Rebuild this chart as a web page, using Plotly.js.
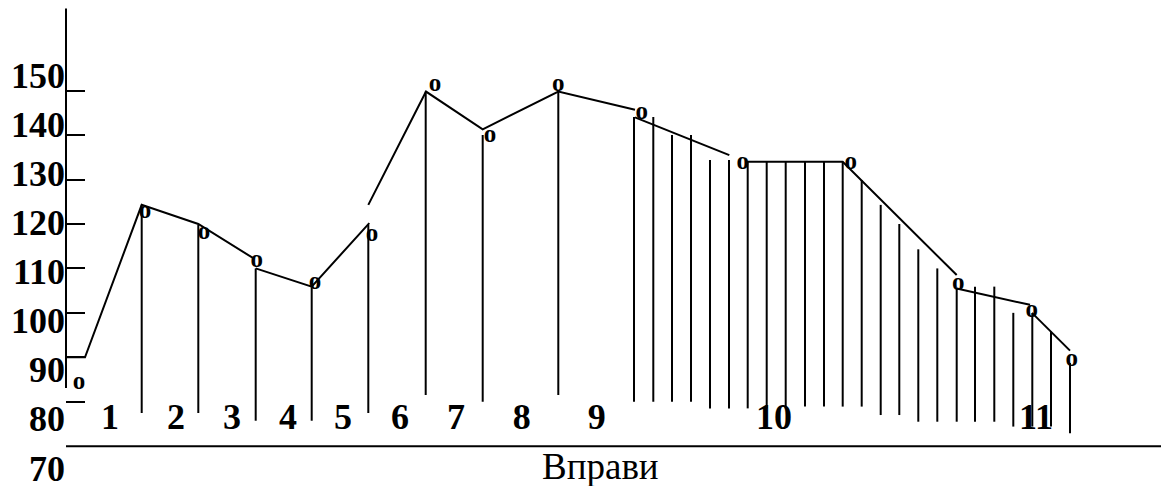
<!DOCTYPE html>
<html>
<head>
<meta charset="utf-8">
<script src="https://cdn.plot.ly/plotly-3.0.1.min.js"></script>
<style>
  html, body { margin: 0; padding: 0; background: #fff; }
  #chart { width: 1161px; height: 486px; }
</style>
</head>
<body>
<div id="chart"></div>
<script>
// ---- data ----
// y-axis tick values and label column
const yTickVals = [80, 90, 100, 110, 120, 130, 140, 150];
const yLabelVals = [70, 80, 90, 100, 110, 120, 130, 140, 150];
const yLabelText = ['70', '80', '90', '100', '110', '120', '130', '140', '150'];

// exercise numbers along the bottom (time position of each label)
const exerciseLabels = ['1', '2', '3', '4', '5', '6', '7', '8', '9', '10', '11'];
const exerciseT = [4.4, 11.0, 16.6, 22.2, 27.7, 33.4, 39.0, 45.57, 53.07, 70.8, 97.0];

// broken polyline of the curve (null = break in the drawn line)
const curveT = [0, 1.9, 7.57, 13.23, 18.73, null,
                18.97, 24.57, 30.33, null,
                30.23, 36.0, 41.67, 49.23, 56.9, null,
                56.9, 66.33, null,
                68.07, 77.67, 89.07, null,
                89.07, 96.4, null,
                96.6, 100.4];
const curveV = [90.0, 90.0, 124.3, 120.0, 112.3, null,
                110.0, 105.9, 120.2, null,
                124.3, 149.8, 141.3, 149.8, 145.7, null,
                144.0, 135.5, null,
                134.0, 134.0, 108.5, null,
                105.5, 101.8, null,
                100.0, 91.5];

// vertical hatch lines: time, top value, bottom value
const hatchT = [7.57, 13.23, 18.97, 24.57, 30.23, 35.97, 41.67, 49.23,
                56.8, 58.73, 60.6, 62.5, 64.4, 66.3, 68.17, 70.07, 71.97,
                73.9, 75.8, 77.67, 79.57, 81.47, 83.33, 85.23, 87.13, 89.07,
                90.9, 92.83, 94.73, 96.63, 98.5, 100.4];
const hatchTop = [124.3, 119.8, 110.0, 105.7, 119.8, 149.8, 140.0, 149.8,
                  144.1, 144.1, 140.0, 140.0, 134.4, 134.4, 134.0, 134.0, 134.0,
                  134.0, 134.0, 134.0, 129.9, 124.3, 120.0, 114.3, 110.0, 105.5,
                  105.9, 105.9, 100.0, 99.9, 95.8, 88.7];
const hatchBase = [77.46, 77.46, 75.72, 75.72, 77.46, 81.5, 80.0, 81.5,
                   80.0, 80.0, 80.0, 80.0, 78.5, 78.5, 78.5, 78.5, 78.5,
                   78.9, 78.9, 78.9, 78.9, 77.0, 77.0, 75.5, 75.5, 75.5,
                   75.5, 75.5, 74.4, 74.4, 74.4, 72.9];

// "o" point marks
const markT = [1.3, 7.9, 13.8, 19.07, 24.9, 30.6, 36.9, 42.4, 49.23, 57.57, 67.67, 78.47, 89.23, 96.57, 100.57];
const markV = [84.3, 122.8, 118.0, 111.8, 106.7, 117.5, 151.3, 139.8, 151.3, 145.1, 133.8, 133.8, 106.6, 100.5, 89.5];

const xTitle = 'Вправи';

// ---- build traces ----
const serif = 'Liberation Serif, Times New Roman, serif';
const hx = [], hy = [];
for (let i = 0; i < hatchT.length; i++) {
  hx.push(hatchT[i], hatchT[i], null);
  hy.push(hatchBase[i], hatchTop[i], null);
}

const traces = [
  { x: hx, y: hy, type: 'scatter', mode: 'lines', line: { color: '#000', width: 2 },
    connectgaps: false, hoverinfo: 'skip', showlegend: false, cliponaxis: false },
  { x: curveT, y: curveV, type: 'scatter', mode: 'lines', line: { color: '#000', width: 2 },
    connectgaps: false, hoverinfo: 'skip', showlegend: false, cliponaxis: false },
  { x: markT, y: markV, type: 'scatter', mode: 'text', text: markT.map(() => 'o'),
    textposition: 'middle center',
    textfont: { family: serif, size: 25, color: '#000', weight: 'bold' },
    hoverinfo: 'skip', showlegend: false, cliponaxis: false },
  { x: exerciseT, y: exerciseT.map(() => 75.9), type: 'scatter', mode: 'text', text: exerciseLabels,
    textposition: 'middle center',
    textfont: { family: serif, size: 36, color: '#000', weight: 'bold' },
    hoverinfo: 'skip', showlegend: false, cliponaxis: false },
  { x: [null], y: [null], yaxis: 'y2', type: 'scatter', mode: 'markers',
    hoverinfo: 'skip', showlegend: false }
];

const layout = {
  width: 1161, height: 486,
  margin: { l: 66, r: 0, t: 0, b: 0, pad: 0 },
  paper_bgcolor: '#fff', plot_bgcolor: '#fff',
  showlegend: false,
  xaxis: { range: [0, 109.5], visible: false, fixedrange: true },
  yaxis: {
    range: [61.03, 170.41], tickmode: 'array', tickvals: yTickVals,
    ticks: 'inside', ticklen: 19, tickwidth: 2, tickcolor: '#000',
    showticklabels: false, showgrid: false, zeroline: false, showline: false, fixedrange: true
  },
  yaxis2: {
    overlaying: 'y', side: 'left', anchor: 'x',
    range: [66.34, 165.27], tickmode: 'array', tickvals: yLabelVals, ticktext: yLabelText,
    ticks: '', showgrid: false, zeroline: false, showline: false, fixedrange: true,
    ticklabeloverflow: 'allow',
    tickfont: { family: serif, size: 36, color: '#000', weight: 'bold' }
  },
  shapes: [
    { type: 'line', xref: 'paper', yref: 'y', x0: 0, x1: 0, y0: 83.1, y1: 168.5,
      line: { color: '#000', width: 2 } },
    { type: 'line', xref: 'paper', yref: 'y', x0: 0, x1: 1, y0: 70, y1: 70,
      line: { color: '#000', width: 2 } }
  ],
  annotations: [
    { text: xTitle, xref: 'x', yref: 'y', x: 53.4, y: 65.4, showarrow: false,
      xanchor: 'center', yanchor: 'middle',
      font: { family: serif, size: 37, color: '#000' } }
  ]
};

Plotly.newPlot('chart', traces, layout, { staticPlot: true, displayModeBar: false });
</script>
</body>
</html>
